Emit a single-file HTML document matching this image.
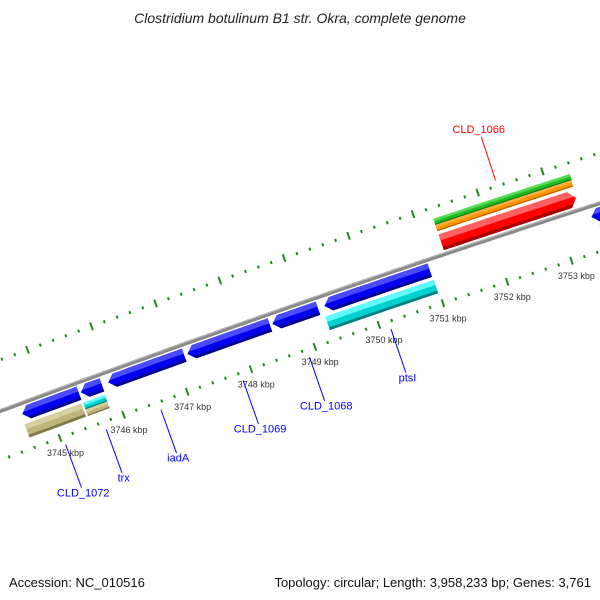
<!DOCTYPE html>
<html><head><meta charset="utf-8"><style>
html,body{margin:0;padding:0;background:#fff;}
svg{display:block;font-family:"Liberation Sans",sans-serif;}
</style></head><body>
<svg id="map" width="600" height="600" viewBox="0 0 600 600" xmlns="http://www.w3.org/2000/svg">
<rect width="600" height="600" fill="#fff"/>
<text x="300" y="23" text-anchor="middle" font-size="14" font-style="italic" fill="#222">Clostridium botulinum B1 str. Okra, complete genome</text>
<g id="plot"></g>
<text x="9" y="587" font-size="13" fill="#111">Accession: NC_010516</text>
<text x="591" y="587" text-anchor="end" font-size="13" fill="#111">Topology: circular; Length: 3,958,233 bp; Genes: 3,761</text>
</svg>
<script>
// ---- data ----
const geneNames   = ['CLD_1072','trx','iadA','CLD_1069','CLD_1068','ptsI','','','CLD_1066'];
const geneStarts  = [3744.60,3745.52,3745.95,3747.19,3748.52,3749.33,3753.48,3743.00,3751.26];
const geneEnds    = [3745.49,3745.85,3747.14,3748.48,3749.23,3750.97,3754.60,3744.36,3753.35];
const geneStrands = [-1,-1,-1,-1,-1,-1,-1,1,1];
const track2Starts = [3744.58,3745.50,3745.50,3749.29,3753.55];
const track2Ends   = [3745.47,3745.84,3745.84,3750.98,3754.60];
const track2Kinds  = ['tan','cyan-small','tan-small','cyan','gray'];
const upperStarts = [3751.26,3751.26];
const upperEnds   = [3753.37,3753.36];
const upperKinds  = ['green','orange'];
const tickLabels  = [3745,3746,3747,3748,3749,3750,3751,3752,3753];
const tickMin = 3742.0, tickMax = 3755.0, tickStep = 0.2;

// ---- geometry (axis functions) ----
const NS='http://www.w3.org/2000/svg';
const R=14000, Mx=300, My=306, nx=0.3275, ny=0.9448;
const dd=Math.sqrt(R*R-317.5*317.5);
const Cx=Mx+nx*dd, Cy=My+ny*dd;
const phi0=Math.atan2(438-Cy,60-Cx) ;
const rRef=Math.hypot(438-Cy,60-Cx)+46;
const kRad=67.9/R;
function pt(kbp,off){const f=phi0+(kbp-3745)*kRad;const r=rRef-off;return [Cx+r*Math.cos(f),Cy+r*Math.sin(f)];}
const plot=document.getElementById('plot');
function mk(tag,attrs){const e=document.createElementNS(NS,tag);for(const k in attrs)e.setAttribute(k,attrs[k]);plot.appendChild(e);return e;}
const styles={
 blue:['#4a4aff','#0000ee','#00008c'], red:['#ff6060','#ff0000','#a80000'],
 tan:['#d6cf9f','#bdb57c','#80794a'], cyan:['#5ffafa','#00d2d2','#007f7f'],
 gray:['#dddddd','#c0c0c0','#888888'], green:['#55dd55','#22bb22','#167a16'],
 orange:['#ffb040','#ff9400','#b86400']};
const hk=7/67.9;
function edgeKbp(a,b,strand,o,oTop,oBot){
  const mid=(oTop+oBot)/2, half=(oBot-oTop)/2, t=Math.abs(o-mid)/half;
  let L=a,Rr=b; if(strand<0)L=a+hk*t; else if(strand>0)Rr=b-hk*t; return [L,Rr];}
function bandPts(a,b,strand,o1,o2,oTop,oBot){
  const mid=(oTop+oBot)/2; const offs=[o1]; if(strand!==0&&mid>o1&&mid<o2)offs.push(mid); offs.push(o2);
  const pts=[]; const n=8;
  const e1=edgeKbp(a,b,strand,o1,oTop,oBot);
  for(let i=0;i<=n;i++){pts.push(pt(e1[0]+(e1[1]-e1[0])*i/n,o1));}
  for(const o of offs.slice(1)){const e=edgeKbp(a,b,strand,o,oTop,oBot);pts.push(pt(e[1],o));}
  const e2=edgeKbp(a,b,strand,o2,oTop,oBot);
  for(let i=n;i>=0;i--){pts.push(pt(e2[0]+(e2[1]-e2[0])*i/n,o2));}
  for(const o of offs.slice(1,-1).reverse()){const e=edgeKbp(a,b,strand,o,oTop,oBot);pts.push(pt(e[0],o));}
  return pts.map(p=>p[0].toFixed(2)+','+p[1].toFixed(2)).join(' ');}
function feature(a,b,strand,oTop,oBot,col,name){
  const g=document.createElementNS(NS,'g');plot.appendChild(g);
  
  
  const h=oBot-oTop, c=styles[col];
  const parts=[[oTop,oBot,c[1]],[oTop,oTop+h*0.38,c[0]],[oBot-h*0.2,oBot,c[2]]];
  for(const p of parts){const e=document.createElementNS(NS,'polygon');
    e.setAttribute('points',bandPts(a,b,strand,p[0],p[1],oTop,oBot));e.setAttribute('fill',p[2]);g.appendChild(e);}
}
function arcPath(off){let d='';for(let k=tickMin;k<=tickMax+1e-9;k+=0.1){const p=pt(k,off);d+=(d?'L':'M')+p[0].toFixed(1)+','+p[1].toFixed(1);}return d;}

// backbone
let bb=mk('path',{d:arcPath(0),stroke:'#8a8a8a','stroke-width':4,fill:'none'});


let bb2=mk('path',{d:arcPath(-1.3),stroke:'#b8b8b8','stroke-width':1,fill:'none'});



// rulers
for(const rOff of [46,-48]){
  for(let i=0;tickMin+i*tickStep<=tickMax+1e-9;i++){
    const k=tickMin+i*tickStep; const major=Math.abs(k-Math.round(k))<1e-6;
    const len=major?4:1.5; const a=pt(k,rOff-len), b=pt(k,rOff+len);
    const t=mk('line',{x1:a[0],y1:a[1],x2:b[0],y2:b[1],stroke:'#1e8a1e','stroke-width':2});
    
    
  }
}
for(const k of tickLabels){const p=pt(k,62);
  const t=mk('text',{x:p[0].toFixed(1),y:(p[1]+3).toFixed(1),'text-anchor':'middle','font-size':9,fill:'#333'});
  t.textContent=k+' kbp';
  
  }

// track 2 (cyan / tan)
const t2off={'tan':[21,35],'cyan':[21,35],'gray':[21,35],'cyan-small':[21,28],'tan-small':[28,35]};
const t2col={'tan':'tan','cyan':'cyan','gray':'gray','cyan-small':'cyan','tan-small':'tan'};
for(let i=0;i<track2Starts.length;i++){const o=t2off[track2Kinds[i]];
  feature(track2Starts[i],track2Ends[i],0,o[0],o[1],t2col[track2Kinds[i]],'track2-feature');}
// upper bars
const upOff={'green':[-37,-30.5],'orange':[-30.5,-24]};
for(let i=0;i<upperStarts.length;i++){const o=upOff[upperKinds[i]];
  feature(upperStarts[i],upperEnds[i],0,o[0],o[1],upperKinds[i],upperKinds[i]+'-bar');}
// genes
for(let i=0;i<geneStarts.length;i++){
  const s=geneStrands[i];
  const oTop=s<0?3.5:-20.5, oBot=s<0?17.5:-4;
  feature(geneStarts[i],geneEnds[i],s,oTop,oBot,s<0?'blue':'red','gene-'+(geneNames[i]||'unlabeled'));
  if(geneNames[i]){
    const mid=(geneStarts[i]+geneEnds[i])/2; const col=s<0?'#0000ff':'#ff0000';
    const o1=s<0?54:-54, o2=s<0?100:-100, o3=s<0?105:-108;
    const a=pt(mid,o1), b=pt(mid,o2), c=pt(mid,o3);
    const l=mk('line',{x1:a[0],y1:a[1],x2:b[0],y2:b[1],stroke:col,'stroke-width':1});
    
    
    const t=mk('text',{x:c[0].toFixed(1),y:(c[1]+4).toFixed(1),'text-anchor':'middle','font-size':11,fill:col});
    t.textContent=geneNames[i];
    
    
  }
}
</script>
</body></html>
